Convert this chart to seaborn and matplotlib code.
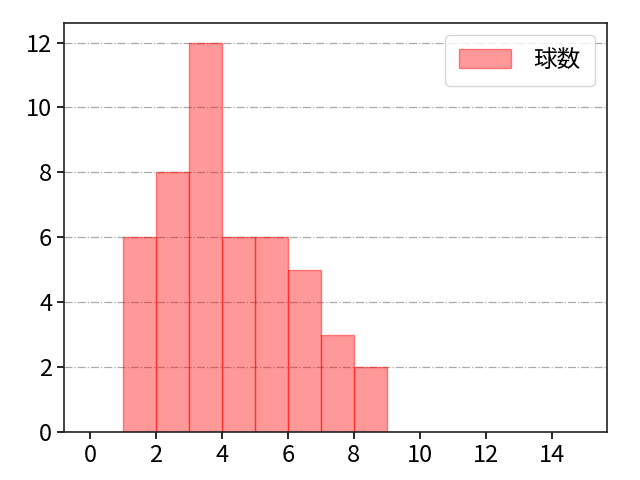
import numpy as np
import pandas as pd
import matplotlib
matplotlib.use("Agg")
import matplotlib.pyplot as plt
import seaborn as sns

# histogram bins (left edges) and pitch counts per bin
bin_edges = [1, 2, 3, 4, 5, 6, 7, 8, 9]
counts = [6, 8, 12, 6, 6, 5, 3, 2]
label = "球数"

sns.set_style("ticks")
plt.rcParams['font.family'] = ['Noto Sans CJK JP', 'DejaVu Sans']
plt.rcParams['font.size'] = 17
plt.rcParams['text.color'] = 'black'
plt.rcParams['xtick.color'] = 'black'
plt.rcParams['ytick.color'] = 'black'

df = pd.DataFrame({
    'value': [e + 0.5 for e in bin_edges[:-1]],
    'count': counts,
})

fig, ax = plt.subplots(figsize=(6.4, 4.8), dpi=100)
sns.histplot(data=df, x='value', weights='count', bins=bin_edges,
             facecolor=(1, 0, 0, 0.4), edgecolor=(1, 0, 0, 0.45),
             linewidth=1.0, label=label, ax=ax)

ax.set_xlim(-0.79, 15.67)
ax.set_ylim(0, 12.6)
ax.set_xticks(range(0, 16, 2))
ax.set_yticks(range(0, 13, 2))
ax.set_xlabel('')
ax.set_ylabel('')
ax.grid(axis='y', linestyle='-.', color='#aaaaaa', linewidth=0.9)
ax.set_axisbelow(True)
for s in ax.spines.values():
    s.set_linewidth(1.2)
    s.set_color('#222222')
ax.tick_params(labelsize=17, length=5, width=1.2)
ax.legend(loc='upper right', fontsize=17, handlelength=2.2,
          handleheight=0.85, handletextpad=0.95, borderaxespad=0.5,
          borderpad=0.6)

fig.subplots_adjust(left=0.1, right=0.948, top=0.952, bottom=0.1)
fig.savefig('out.png', dpi=100)
